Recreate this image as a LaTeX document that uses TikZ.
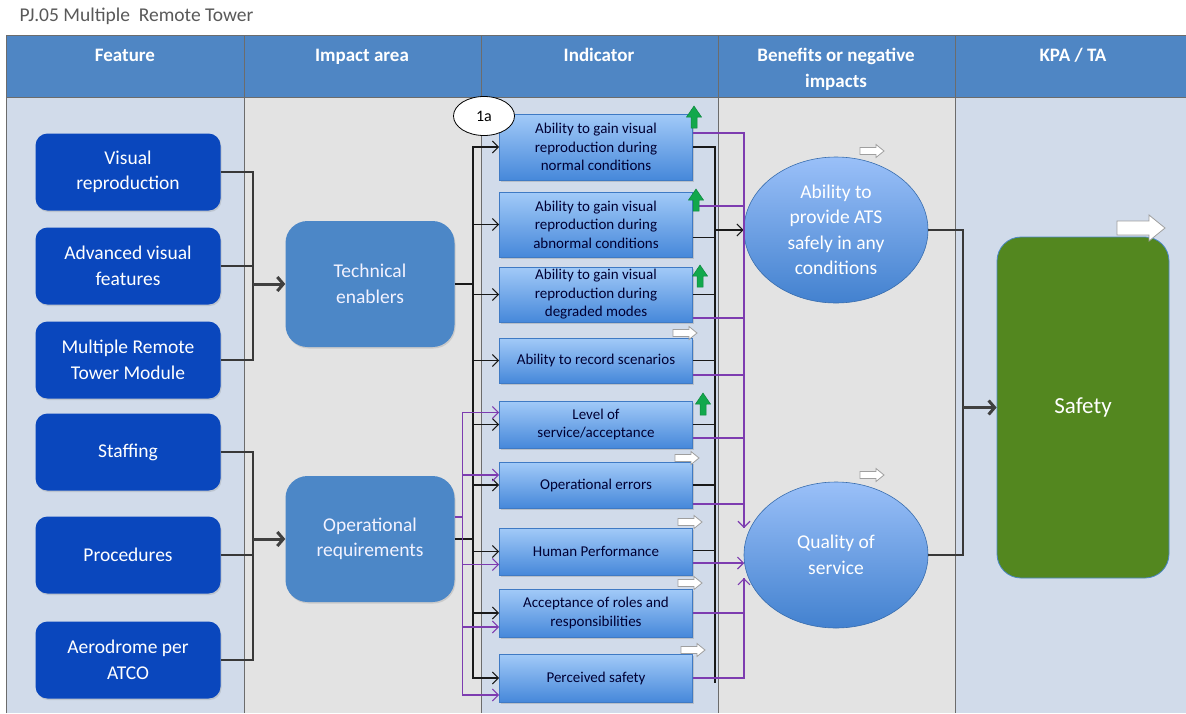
\documentclass[tikz,border=0pt]{standalone}
\usepackage{fontspec}
\setmainfont{Carlito}
\usepackage{tikz}
\usetikzlibrary{arrows.meta,shapes.geometric,positioning,calc,shadows}

\definecolor{hdrblue}{HTML}{4F86C4}
\definecolor{laneblue}{HTML}{D1DBEA}
\definecolor{lanegrey}{HTML}{E3E3E3}
\definecolor{featblue}{HTML}{0A47BD}
\definecolor{impblue}{HTML}{4C87C7}
\definecolor{indtop}{HTML}{A2CAF8}
\definecolor{indbot}{HTML}{4688DA}
\definecolor{kpagreen}{HTML}{53871F}
\definecolor{linkpurple}{HTML}{7D3CB0}
\definecolor{upgreen}{HTML}{12A84C}
\definecolor{titlegrey}{HTML}{595959}

\tikzset{
  featbox/.style={rounded corners=12pt, fill=featblue, text=white, align=center,
                  minimum width=185pt, minimum height=77pt, inner sep=0pt,
                  drop shadow={opacity=0.25, shadow xshift=1pt, shadow yshift=-1.5pt}},
  impbox/.style={rounded corners=22pt, fill=impblue, text=white!95!blue, align=center,
                 minimum width=169pt, minimum height=126pt, inner sep=0pt,
                 drop shadow={opacity=0.25, shadow xshift=1pt, shadow yshift=-1.5pt}},
  indbox/.style={draw=indbot!90!black, line width=0.6pt, top color=indtop, bottom color=indbot,
                 text=black!80!blue, align=center, minimum width=193pt, inner sep=1pt,
                 font=\fontsize{15}{18.5}\selectfont,
                 drop shadow={opacity=0.3, shadow xshift=1pt, shadow yshift=-1.5pt}},
  benefit/.style={ellipse, draw=indbot!80!black, line width=0.6pt, top color=indtop!95!blue,
                  bottom color=indbot!95!black, text=white, align=center,
                  minimum width=184pt, minimum height=146pt, inner sep=0pt},
  kpabox/.style={rounded corners=24pt, fill=kpagreen, draw=impblue, line width=0.8pt,
                 text=white, minimum width=172pt, minimum height=341pt,
                 font=\fontsize{23}{27}\selectfont},
  hdr/.style={font=\fontsize{19}{26}\selectfont\bfseries, text=white, align=center, anchor=base},
  feed/.style={line width=2pt, black!78},
  bigarrow/.style={line width=3pt, black!75, -{Straight Barb[length=6pt,width=14pt]}},
  blk/.style={line width=1.1pt, black!90, >={Straight Barb[length=6pt,width=12pt]}},
  purp/.style={line width=1.1pt, linkpurple, >={Straight Barb[length=6pt,width=12pt]}},
  flatmark/.pic={
    \draw[gray!75, fill=white, line width=0.8pt]
      (-12,-3.5) -- (4,-3.5) -- (4,-6.5) -- (12,0) -- (4,6.5) -- (4,3.5) -- (-12,3.5) -- cycle;},
  upmark/.pic={
    \draw[upgreen!80!black, fill=upgreen, line width=0.5pt]
      (0,-11) -- (7.5,0) -- (3,0) -- (3,11) -- (-3,11) -- (-3,0) -- (-7.5,0) -- cycle;},
}

\begin{document}
\begin{tikzpicture}[x=1pt, y=-1pt, every node/.style={font=\fontsize{19.5}{25.5}\selectfont}]
\useasboundingbox (0,0) rectangle (1186,713);

%% ── Title ────────────────────────────────────────────────────────────────────
\node[titlegrey, anchor=west, font=\fontsize{19.5}{22}\selectfont] (title) at (16,16)
  {PJ.05 Multiple\ \ Remote Tower};

%% ── Lanes ────────────────────────────────────────────────────────────────────
\fill[laneblue] (7,97) rectangle (244,713);
\fill[lanegrey] (244,97) rectangle (481,713);
\fill[laneblue] (481,97) rectangle (718,713);
\fill[lanegrey] (718,97) rectangle (955,713);
\fill[laneblue] (955,97) rectangle (1186,713);
\fill[hdrblue] (7,35) rectangle (1186,97);
\draw[gray!85!black, thin] (6,713) -- (6,35) -- (1186,35);
\draw[gray!85!black, thin] (6,97) -- (1186,97);
\foreach \xpos in {244,481,718,955}{
  \draw[gray!85!black, thin] (\xpos,35) -- (\xpos,713);
}

%% ── Header labels ────────────────────────────────────────────────────────────
\node[hdr] (hfeat) at (125,61) {Feature};
\node[hdr] (himp)  at (362,61) {Impact area};
\node[hdr] (hind)  at (599,61) {Indicator};
\node[hdr] (hben)  at (836,87) {Benefits or negative\\impacts};
\node[hdr] (hkpa)  at (1073,61) {KPA / TA};

%% ── Features ─────────────────────────────────────────────────────────────────
\node[featbox] (vis)   at (128,172) {Visual\\reproduction};
\node[featbox] (adv)   at (128,266) {Advanced visual\\features};
\node[featbox] (mrt)   at (128,360) {Multiple Remote\\Tower Module};
\node[featbox] (staff) at (128,452) {Staffing};
\node[featbox] (proc)  at (128,555) {Procedures};
\node[featbox] (aero)  at (128,660) {Aerodrome per\\ATCO};

%% ── Impact areas ─────────────────────────────────────────────────────────────
\node[impbox] (tech) at (370,284) {Technical\\enablers};
\node[impbox] (oper) at (370,539) {Operational\\requirements};

%% ── Indicators ───────────────────────────────────────────────────────────────
\node[indbox, minimum height=66pt] (ind1) at (596,147)
  {Ability to gain visual\\reproduction during\\normal conditions};
\node[indbox, minimum height=65pt] (ind2) at (596,224.5)
  {Ability to gain visual\\reproduction during\\abnormal conditions};
\node[indbox, minimum height=55pt] (ind3) at (596,294.5)
  {Ability to gain visual\\reproduction during\\degraded modes};
\node[indbox, minimum height=45pt] (ind4) at (596,360.5) {Ability to record scenarios};
\node[indbox, minimum height=47pt] (ind5) at (596,424.5) {Level of\\service/acceptance};
\node[indbox, minimum height=46pt] (ind6) at (596,485) {Operational errors};
\node[indbox, minimum height=47pt] (ind7) at (596,551.5) {Human Performance};
\node[indbox, minimum height=48pt] (ind8) at (596,613) {Acceptance of roles and\\responsibilities};
\node[indbox, minimum height=48pt] (ind9) at (596,678) {Perceived safety};

\node[draw, ellipse, fill=white, line width=0.8pt, minimum width=61pt, minimum height=39pt,
      inner sep=0pt, font=\fontsize{16}{16}\selectfont] (tag) at (484,116) {1a};

%% ── Benefits and KPA ─────────────────────────────────────────────────────────
\node[benefit] (ats) at (836,230) {Ability to\\provide ATS\\safely in any\\conditions};
\node[benefit] (qos) at (836,555) {Quality of\\service};
\node[kpabox] (safety) at (1083,407.5) {Safety};

%% ── Features -> impact areas ─────────────────────────────────────────────────
\coordinate (techbus) at (253,284);
\coordinate (operbus) at (253,539);
\foreach \f in {vis,adv,mrt}{ \draw[feed] (\f.east) -| (techbus); }
\foreach \f in {staff,proc,aero}{ \draw[feed] (\f.east) -| (operbus); }
\draw[bigarrow] (techbus) -- (tech.west);
\draw[bigarrow] (operbus) -- (oper.west);

%% ── Impact areas -> indicators ───────────────────────────────────────────────
\coordinate (tbus) at (473,284);
\draw[blk] (tech.east) -- (tbus);
\draw[blk] (oper.east) -- (oper.east -| tbus);
\foreach \i in {ind1,ind2,ind3,ind4,ind5,ind6,ind7,ind8,ind9}{
  \draw[blk, ->] (tbus) |- (\i.west);
}
\coordinate (pbus) at ($(oper.east)+(8,-22)$);
\draw[purp] ($(oper.east)+(0,-22)$) -- (pbus);
\foreach \i/\dy in {ind5/-12, ind6/-10, ind7/13, ind8/14, ind9/17}{
  \draw[purp, ->] (pbus) |- ($(\i.west)+(0,\dy)$);
}

%% ── Indicators -> benefits (black) ───────────────────────────────────────────
\coordinate (obus) at (715,230);
\coordinate (obusend) at (715,683);
\foreach \i/\dy in {ind1/0, ind2/13, ind3/0, ind4/0, ind5/0, ind6/0, ind7/-1}{
  \draw[blk] ($(\i.east)+(0,\dy)$) -| (obus);
}
\draw[blk] (obus) -- (obusend);
\draw[blk, ->] (obus) -- (ats.west);

%% ── Indicators -> benefits (purple) ──────────────────────────────────────────
\coordinate (qtop) at (744,528);
\coordinate (qbot) at (744,578);
\foreach \i/\dy in {ind1/-14, ind2/-18.5, ind3/23.5, ind4/14.5, ind5/13.5}{
  \draw[purp] ($(\i.east)+(0,\dy)$) -| (qtop);
}
\draw[purp, ->] ($(ind6.east)+(0,19)$) -| (qtop);
\draw[purp, ->] (ind7.east |- qos.185) -- (qos.185);
\draw[purp] (ind8.east) -| (qbot);
\draw[purp, ->] (ind9.east) -| (qbot);

%% ── Benefits -> KPA ──────────────────────────────────────────────────────────
\coordinate (kbus) at (963,407.5);
\draw[feed] (ats.east) -| (kbus);
\draw[feed] (qos.east) -| (kbus);
\draw[bigarrow] (kbus) -- (safety.west);

%% ── Trend marks ──────────────────────────────────────────────────────────────
\foreach \xpos/\ypos in {694/117, 696/200, 700/276, 703/404}{
  \pic at (\xpos,\ypos) {upmark};
}
\foreach \xpos/\ypos in {685/333, 687/458, 690/522, 690/583, 693/650, 872/151, 872/475}{
  \pic at (\xpos,\ypos) {flatmark};
}
\pic[scale=2] at (1141,228) {flatmark};

\end{tikzpicture}
\end{document}
